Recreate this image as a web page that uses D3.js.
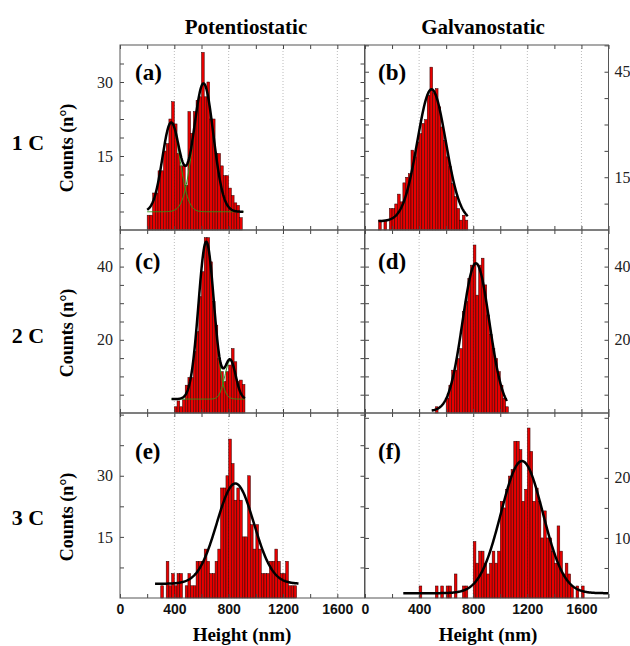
<!DOCTYPE html>
<html><head><meta charset="utf-8">
<script src="https://cdn.jsdelivr.net/npm/d3@7"></script>
<style>
body{margin:0;background:#fff;}
svg{display:block;}
</style></head>
<body>
<svg id="chart" width="630" height="646"></svg>
<script>
// ---------------- DATA ----------------
const colTitles = ["Potentiostatic", "Galvanostatic"];
const rowTitles = ["1 C", "2 C", "3 C"];
const panelLetters = ["(a)", "(b)", "(c)", "(d)", "(e)", "(f)"];
const xTickLabels = [0, 400, 800, 1200, 1600];
const binWidth = 20; // nm
const binStarts = [200, 100, 400, 520, 300, 400]; // nm, first bin of each panel

const countsA = [3,3,7.5,7.5,12,12,16,17.5,22.5,26,21.5,15.5,13,13,9,24,19.6,24,26.3,27,36,27,30,22.5,22.5,15.5,15.5,13,11,11,8.5,7,5.5,5,2.5];
const countsB = [2.8,0,2.8,0,6.1,6.1,7.4,10.2,8,13.4,15,16,22.7,20.8,25,27.4,30.3,31.4,38.3,46.3,39,40.2,35,29.3,25.5,20.8,18,13.2,9.5,6.1,2.8,4.2,2.8];
const countsC = [1.7,3.3,1.7,3.6,7.6,9.7,9.7,16.8,22.2,31.8,38.6,47.9,47.9,41.3,30.4,24,14.9,11.3,8.6,11.3,13.1,17.6,14,8.6,9,7.8];
const countsD = [1.7,0,0,0,4,7.6,11.7,11.7,14.9,17.6,27.7,30.4,36.8,40.4,45.9,32.2,40.4,42.3,35,26.8,21.4,17.6,14.9,11.3,7.6,4,1.7];
const countsE = [3,0,9,3,6,3,6,6,0,3, 6,3,3,9,9,9,12,9,6,6, 9,12,27,27,30,39,33,24,27,24, 15,15,30,18,12,18,12,6,6,6, 9,9,12,9,6,6,9,3,3,3];
const countsF = [2,0,0,0,0,0,2,0,2,0, 2,2,0,4,0,0,2,2,0,0, 9.4,5.8,7.8,7.8,5.8,4,5.8,7.8,5.8,7.8, 16.1,15,18.1,20.3,21.4,26.1,26.1,24.7,16.1,18.1, 28.3,24.4,16.1,18.3,16.1,10,14.5,10,10,7.8, 5.8,12,7.8,4,5.8,4,2,0,2,0, 2];
const panelCounts = [countsA, countsB, countsC, countsD, countsE, countsF];

// y axes
const yMax = [37.5, 52.6, 50, 50, 45.4, 30.8];
const yLabelTicks = [[15,30],[15,45],[20,40],[20,40],[15,30],[10,20]];
const yMinorStep = [3.75, 7.5, 5, 5, 7.5, 5];

// Gaussian fit parameters (baseline, centres, widths, amplitudes)
const fitBase = [3.7, 2.5, 3.8, 0.5, 3.5, 0.8];
const fitCenters = [[376, 615], [492], [635, 812], [820], [849], [1160]];
const fitSigmas  = [[64, 72], [105], [57, 40], [99], [136], [155]];
const fitAmps    = [[18, 26], [37.5], [43, 10.5], [40.4], [24.6], [22]];
const fitRange   = [[200, 910], [100, 760], [380, 920], [493, 1050], [258, 1316], [283, 1800]];

// ---------------- LAYOUT ----------------
const colX = [[120, 364.5], [365, 608.5]];
const rowY = [[45, 230], [230, 413], [413, 598]];
const serif = "'Liberation Serif','Times New Roman',serif";
const sans = "'Liberation Sans',Arial,sans-serif";

const svg = d3.select("#chart");

const titleX = [246, 483];
colTitles.forEach((t, c) => {
  svg.append("text").attr("x", titleX[c]).attr("y", 34)
    .attr("text-anchor", "middle").attr("font-family", serif).attr("font-weight", "bold")
    .attr("font-size", 21).text(t);
});
const rowLabelY = [142, 335, 517];
const countsLabelY = [148, 333, 517];
rowTitles.forEach((t, r) => {
  svg.append("text").attr("x", 28).attr("y", rowLabelY[r]).attr("dy", "0.35em")
    .attr("text-anchor", "middle").attr("font-family", serif).attr("font-weight", "bold")
    .attr("font-size", 22).text(t);
  svg.append("text").attr("transform", `translate(67,${countsLabelY[r]}) rotate(-90)`)
    .attr("dy", "0.35em").attr("text-anchor", "middle").attr("font-family", serif)
    .attr("font-weight", "bold").attr("font-size", 18).text("Counts (n°)");
});

const ticks200 = d3.range(0, 1801, 200);
const gridVals = [400, 800, 1200, 1600];

for (let p = 0; p < 6; p++) {
  const r = Math.floor(p / 2), c = p % 2;
  const [x0, x1] = colX[c], [y0, y1] = rowY[r];
  const x = d3.scaleLinear().domain([0, 1800]).range([x0, x1]);
  const y = d3.scaleLinear().domain([0, yMax[p]]).range([y1, y0]);
  const g = svg.append("g");

  // grid
  g.selectAll("line.grid").data(gridVals).join("line")
    .attr("x1", d => x(d)).attr("x2", d => x(d)).attr("y1", y0).attr("y2", y1)
    .attr("stroke", "#aaa").attr("stroke-width", 0.8).attr("stroke-dasharray", "1,2");

  // bars
  const counts = panelCounts[p];
  const bins = counts.map((v, i) => ({ x0: binStarts[p] + i * binWidth, x1: binStarts[p] + (i + 1) * binWidth, v }));
  g.selectAll("rect.bar").data(bins.filter(b => b.v > 0)).join("rect")
    .attr("x", d => x(d.x0)).attr("width", d => x(d.x1) - x(d.x0))
    .attr("y", d => y(d.v)).attr("height", d => y(0) - y(d.v))
    .attr("fill", "#e80000").attr("stroke", "#2a0000").attr("stroke-width", 0.5);

  // fit curves
  const base = fitBase[p], cs = fitCenters[p], ss = fitSigmas[p], as = fitAmps[p];
  const xs = d3.range(fitRange[p][0], fitRange[p][1] + 0.1, 4);
  const comp = (k, xv) => as[k] * Math.exp(-((xv - cs[k]) ** 2) / (2 * ss[k] ** 2));
  const line = d3.line().x(d => x(d[0])).y(d => y(d[1])).curve(d3.curveLinear);
  if (cs.length > 1) {
    cs.forEach((_, k) => {
      g.append("path").datum(xs.map(xv => [xv, base + comp(k, xv)]))
        .attr("d", line).attr("fill", "none").attr("stroke", "#2e9a1a").attr("stroke-width", 1);
    });
  }
  g.append("path").datum(xs.map(xv => [xv, base + cs.reduce((s, _, k) => s + comp(k, xv), 0)]))
    .attr("d", line).attr("fill", "none").attr("stroke", "#000").attr("stroke-width", 2.5)
    .attr("stroke-linejoin", "round");

  // ticks
  const minor = d3.range(yMinorStep[p], yMax[p], yMinorStep[p]);
  const styleAxis = sel => {
    sel.select(".domain").remove();
    sel.selectAll(".tick line").attr("stroke", "#444");
  };
  g.append("g").attr("transform", `translate(0,${y0})`)
    .call(d3.axisTop(x).tickValues(ticks200).tickSize(-4).tickFormat("")).call(styleAxis);
  g.append("g").attr("transform", `translate(0,${y1})`)
    .call(d3.axisBottom(x).tickValues(ticks200).tickSize(-4).tickFormat("")).call(styleAxis);
  if (r === 2) {
    const lab = g.append("g").attr("transform", `translate(0,${y1})`)
      .call(d3.axisBottom(x).tickValues(xTickLabels).tickSize(0).tickPadding(6).tickFormat(d3.format("d")));
    lab.select(".domain").remove();
    lab.selectAll("text").attr("font-family", sans).attr("font-weight", "bold")
      .attr("font-size", 14).attr("fill", "#111");
  }
  g.append("g").attr("transform", `translate(${x0},0)`)
    .call(d3.axisLeft(y).tickValues(minor).tickSize(-4).tickFormat("")).call(styleAxis);
  g.append("g").attr("transform", `translate(${x1},0)`)
    .call(d3.axisRight(y).tickValues(minor).tickSize(-4).tickFormat("")).call(styleAxis);
  const labAxis = c === 0
    ? d3.axisLeft(y).tickValues(yLabelTicks[p]).tickSize(0).tickPadding(7)
    : d3.axisRight(y).tickValues(yLabelTicks[p]).tickSize(0).tickPadding(6);
  const la = g.append("g").attr("transform", `translate(${c === 0 ? x0 : x1},0)`).call(labAxis);
  la.select(".domain").remove();
  la.selectAll("text").attr("font-family", serif).attr("font-size", 16).attr("fill", "#222");

  // frame
  g.append("rect").attr("x", x0).attr("y", y0).attr("width", x1 - x0).attr("height", y1 - y0)
    .attr("fill", "none").attr("stroke", "#555").attr("stroke-width", 1);

  // panel letter
  svg.append("text").attr("x", x0 + (c === 0 ? 15 : 13)).attr("y", y0 + (r === 0 ? 35 : r === 1 ? 39 : 46))
    .attr("font-family", serif).attr("font-weight", "bold").attr("font-size", 23).text(panelLetters[p]);
}

// x axis titles
const xTitleX = [242, 488];
xTitleX.forEach(cx => {
  svg.append("text").attr("x", cx).attr("y", 641)
    .attr("text-anchor", "middle").attr("font-family", serif).attr("font-weight", "bold")
    .attr("font-size", 19).text("Height (nm)");
});
</script>
</body></html>
